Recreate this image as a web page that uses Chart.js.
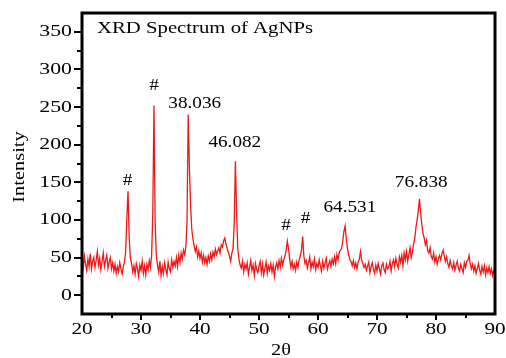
<!DOCTYPE html>
<html>
<head>
<meta charset="utf-8">
<script src="https://cdn.jsdelivr.net/npm/chart.js@4.4.1/dist/chart.umd.min.js"></script>
<style>
  html, body { margin: 0; padding: 0; background: #fff; }
  #wrap { width: 506px; height: 358px; position: relative; }
</style>
</head>
<body>
<div id="wrap"><canvas id="xrd"></canvas></div>
<script>
// XRD scan, 2θ from 20° to 90° sampled every 0.2° (five readings per degree row)
const startAngle = 20;
const stepAngle = 0.2;
const intensity = [
  44, 36, 52, 41, 33,   // 20
  48, 38, 55, 35, 45,   // 21
  50, 37, 46, 58, 40,   // 22
  49, 34, 45, 56, 38,   // 23
  46, 53, 36, 44, 50,   // 24
  35, 43, 32, 41, 29,   // 25
  38, 31, 43, 35, 28,   // 26
  38, 44, 58, 102, 138, // 27
  76, 50, 42, 31, 39,   // 28
  28, 42, 35, 25, 40,   // 29
  33, 45, 29, 39, 27,   // 30
  41, 34, 46, 37, 52,   // 31
  110, 252, 95, 52, 40, // 32
  31, 45, 26, 38, 29,   // 33
  43, 34, 27, 44, 35,   // 34
  31, 47, 37, 45, 39,   // 35
  50, 38, 53, 43, 56,   // 36
  48, 60, 54, 64, 98,   // 37
  240, 172, 120, 88, 75,// 38
  66, 58, 64, 51, 59,   // 39
  49, 56, 44, 53, 43,   // 40
  50, 41, 52, 45, 55,   // 41
  47, 57, 51, 61, 54,   // 42
  59, 63, 56, 67, 64,   // 43
  72, 76, 68, 62, 57,   // 44
  52, 45, 56, 62, 95,   // 45
  178, 110, 62, 48, 40, // 46
  36, 45, 31, 41, 35,   // 47
  43, 28, 37, 46, 33,   // 48
  40, 26, 42, 34, 30,   // 49
  39, 45, 30, 41, 27,   // 50
  36, 44, 29, 39, 33,   // 51
  42, 31, 40, 25, 37,   // 52
  43, 35, 46, 37, 49,   // 53
  40, 47, 52, 60, 72,   // 54
  62, 48, 37, 45, 35,   // 55
  41, 33, 44, 37, 47,   // 56
  52, 60, 78, 52, 42,   // 57
  46, 36, 43, 51, 35,   // 58
  44, 38, 48, 34, 42,   // 59
  37, 47, 39, 32, 45,   // 60
  36, 43, 49, 35, 41,   // 61
  46, 38, 48, 42, 51,   // 62
  42, 54, 47, 57, 60,   // 63
  62, 72, 85, 92, 74,   // 64
  62, 54, 47, 45, 39,   // 65
  46, 37, 43, 35, 44,   // 66
  48, 58, 47, 42, 37,   // 67
  41, 33, 39, 44, 30,   // 68
  38, 43, 34, 29, 40,   // 69
  32, 42, 35, 28, 39,   // 70
  43, 34, 30, 41, 35,   // 71
  37, 45, 32, 42, 47,   // 72
  38, 49, 41, 36, 51,   // 73
  44, 53, 39, 56, 47,   // 74
  58, 45, 54, 63, 50,   // 75
  57, 68, 75, 90, 100,  // 76
  112, 128, 108, 94, 82,// 77
  76, 67, 73, 59, 56,   // 78
  63, 51, 48, 56, 44,   // 79
  51, 41, 48, 53, 47,   // 80
  55, 60, 52, 45, 51,   // 81
  42, 37, 46, 39, 35,   // 82
  43, 33, 40, 45, 36,   // 83
  32, 41, 35, 30, 43,   // 84
  37, 45, 46, 53, 42,   // 85
  35, 41, 32, 39, 29,   // 86
  36, 42, 33, 28, 38,   // 87
  31, 39, 27, 36, 30,   // 88
  38, 29, 35, 26, 33,   // 89
  32                    // 90
];

// peak labels drawn on the plot (text, 2θ, intensity of the text centre)
const peakText = ['#', '#', '38.036', '46.082', '#', '#', '64.531', '76.838'];
const peakX    = [27.7, 32.2, 39.1, 45.9, 54.6, 57.9, 65.4, 77.5];
const peakY    = [152, 278, 255, 203, 92, 101, 116, 150];

const yTickLabels = [0, 50, 100, 150, 200, 250, 300, 350];
const xTickLabels = [20, 30, 40, 50, 60, 70, 80, 90];

const points = intensity.map((v, i) => ({ x: startAngle + i * stepAngle, y: v }));

const serif = '"Liberation Serif", "DejaVu Serif", serif';
const stretch = 1.2; // the original lettering is wider than plain Times

function wideText(ctx, text, x, y, align, sx) {
  ctx.save();
  ctx.translate(x, y);
  ctx.scale(sx || stretch, 1);
  ctx.textAlign = align;
  ctx.fillText(text, 0, 0);
  ctx.restore();
}

const framePlugin = {
  id: 'frame',
  afterDraw(chart) {
    const { ctx, chartArea: a, scales: { x, y } } = chart;
    ctx.save();
    ctx.strokeStyle = '#000';

    // ticks
    ctx.lineWidth = 2;
    for (let v = -25; v <= 375; v += 25) {
      const py = Math.round(y.getPixelForValue(v));
      if (py < a.top + 2 || py > a.bottom - 2) continue;
      const len = v % 50 === 0 ? 8 : 5;
      ctx.beginPath(); ctx.moveTo(a.left - len, py); ctx.lineTo(a.left, py); ctx.stroke();
    }
    for (let v = 25; v < 90; v += 5) {
      const px = Math.round(x.getPixelForValue(v));
      const len = v % 10 === 0 ? 6 : 4;
      ctx.beginPath(); ctx.moveTo(px, a.bottom); ctx.lineTo(px, a.bottom + len); ctx.stroke();
    }

    // frame
    ctx.lineWidth = 3;
    ctx.strokeRect(a.left, a.top, a.right - a.left, a.bottom - a.top);

    ctx.fillStyle = '#000';
    ctx.font = '17px ' + serif;
    ctx.textBaseline = 'middle';

    // tick labels
    y.ticks.forEach(t => wideText(ctx, String(t.value), a.left - 10, y.getPixelForValue(t.value), 'right', 1.28));
    x.ticks.forEach(t => wideText(ctx, String(t.value), x.getPixelForValue(t.value), a.bottom + 16, 'center', 1.25));

    // title
    ctx.textBaseline = 'alphabetic';
    wideText(ctx, 'XRD Spectrum of AgNPs', a.left + 15, a.top + 20, 'left', 1.22);

    // peak labels
    ctx.font = '16px ' + serif;
    ctx.textBaseline = 'middle';
    peakText.forEach((t, i) => {
      wideText(ctx, t, x.getPixelForValue(peakX[i]), y.getPixelForValue(peakY[i]), 'center');
    });

    // axis titles
    ctx.font = '17px ' + serif;
    wideText(ctx, '2θ', 281, 351, 'center');
    ctx.translate(20, 167);
    ctx.rotate(-Math.PI / 2);
    wideText(ctx, 'Intensity', 0, 0, 'center');
    ctx.restore();
  }
};

new Chart(document.getElementById('xrd'), {
  type: 'line',
  data: {
    datasets: [{
      data: points,
      borderColor: '#f01818',
      borderWidth: 1.3,
      pointRadius: 0,
      tension: 0,
      fill: false
    }]
  },
  options: {
    responsive: true,
    maintainAspectRatio: false,
    animation: false,
    layout: { padding: { left: 0, top: 13, right: 11, bottom: 0 } },
    plugins: { legend: { display: false }, tooltip: { enabled: false } },
    scales: {
      x: {
        type: 'linear',
        min: 20, max: 90,
        afterFit: s => { s.height = 44; },
        afterBuildTicks: s => { s.ticks = xTickLabels.map(v => ({ value: v })); },
        grid: { display: false, drawTicks: false },
        border: { display: false },
        ticks: { display: false }
      },
      y: {
        min: -25, max: 375,
        afterFit: s => { s.width = 82; },
        afterBuildTicks: s => { s.ticks = yTickLabels.map(v => ({ value: v })); },
        grid: { display: false, drawTicks: false },
        border: { display: false },
        ticks: { display: false }
      }
    }
  },
  plugins: [framePlugin]
});
</script>
</body>
</html>
